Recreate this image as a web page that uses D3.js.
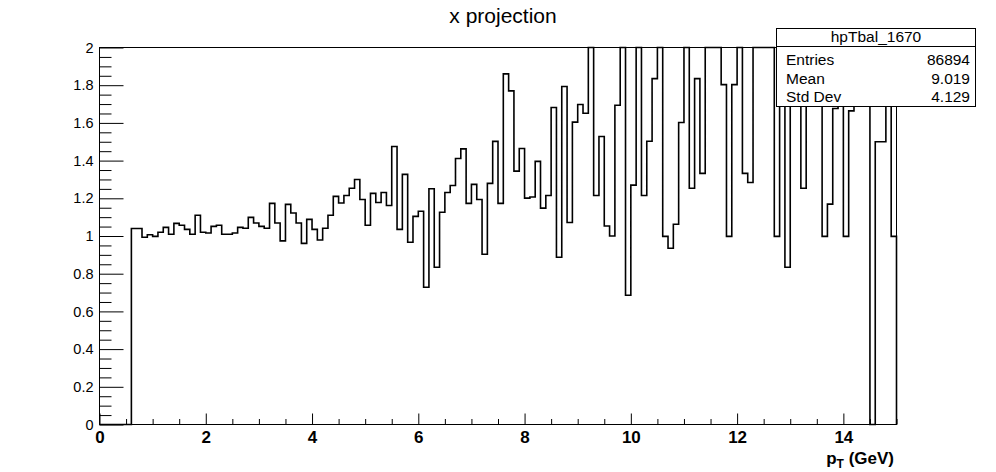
<!DOCTYPE html>
<html>
<head>
<meta charset="utf-8">
<script src="https://cdn.jsdelivr.net/npm/d3@7"></script>
<style>
  html, body { margin: 0; padding: 0; background: #fff; }
  svg { display: block; font-family: "Liberation Sans", Arial, Helvetica, sans-serif; }
</style>
</head>
<body>
<svg id="chart" width="996" height="472"></svg>
<script>
// ---------- data ----------
const chartTitle = "x projection";
const xDomain = [0, 15];
const yDomain = [0, 2];
const binWidth = 0.1;
// bin contents, bins [0,0.1), [0.1,0.2) ... [14.9,15.0)
const binValues = [
  0, 0, 0, 0, 0, 0,
  1.040, 1.040, 0.993, 1.007, 0.998, 1.020, 1.046, 1.009, 1.067, 1.057,   // 0.6 - 1.5
  1.035, 1.009, 1.110, 1.020, 1.016, 1.051, 1.057, 1.009, 1.009, 1.016,   // 1.6 - 2.5
  1.046, 1.041, 1.099, 1.069, 1.051, 1.041, 1.173, 1.069, 0.974, 1.168,   // 2.6 - 3.5
  1.122, 1.069, 0.961, 1.088, 1.035, 0.979, 1.041, 1.110, 1.210, 1.175,   // 3.6 - 4.5
  1.215, 1.253, 1.300, 1.194, 1.057, 1.226, 1.178, 1.231, 1.162, 1.475,   // 4.6 - 5.5
  1.035, 1.327, 0.967, 1.104, 1.131, 0.728, 1.251, 0.834, 1.126, 1.231,   // 5.6 - 6.5
  1.268, 1.411, 1.462, 1.173, 1.274, 1.194, 0.903, 1.279, 1.502, 1.173,   // 6.6 - 7.5
  1.860, 1.770, 1.344, 1.464, 1.201, 1.207, 1.396, 1.148, 1.215, 1.682,   // 7.6 - 8.5
  0.887, 1.793, 1.072, 1.604, 1.698, 1.651, 2.400, 1.215, 1.528, 1.053,   // 8.6 - 9.5
  1.000, 1.694, 2.300, 0.686, 1.270, 2.200, 1.215, 1.503, 1.835, 2.300,   // 9.6 - 10.5
  0.998, 0.935, 1.062, 1.602, 2.400, 1.253, 1.835, 1.332, 2.200, 2.500,   // 10.6 - 11.5
  2.300, 1.803, 0.998, 1.803, 2.400, 1.332, 1.284, 2.200, 2.600, 2.300,   // 11.6 - 12.5
  2.400, 0.998, 2.200, 0.834, 2.300, 2.100, 1.253, 2.500, 2.200, 2.300,   // 12.6 - 13.5
  0.998, 1.169, 1.676, 2.200, 0.998, 1.664, 2.300, 2.100, 2.400, 0.000,   // 13.6 - 14.5
  1.500, 1.500, 2.200, 0.998                                               // 14.6 - 14.9
];
const xTickValues = [0, 2, 4, 6, 8, 10, 12, 14];
const yTickLabels = ["0", "0.2", "0.4", "0.6", "0.8", "1", "1.2", "1.4", "1.6", "1.8", "2"];
const statsTitle = "hpTbal_1670";
const statsNames = ["Entries", "Mean", "Std Dev"];
const statsValues = ["86894", "9.019", "4.129"];

// ---------- layout ----------
const svg = d3.select("#chart");
const fL = 99.5, fR = 896.5, fT = 47.5, fB = 424.5;
const x = d3.scaleLinear().domain(xDomain).range([fL, fR]);
const y = d3.scaleLinear().domain(yDomain).range([fB, fT]);

svg.append("rect").attr("width", 996).attr("height", 472).attr("fill", "#fff");

// title
svg.append("text")
  .attr("x", 503).attr("y", 23)
  .attr("text-anchor", "middle")
  .attr("font-size", 21)
  .text(chartTitle);

// histogram path
const clipY = v => Math.max(yDomain[0], Math.min(yDomain[1], v));
const pts = [[xDomain[0], 0]];
binValues.forEach((v, i) => {
  const lo = xDomain[0] + i * binWidth, hi = lo + binWidth;
  pts.push([lo, clipY(v)]);
  pts.push([hi, clipY(v)]);
});
pts.push([xDomain[1], 0]);
const line = d3.line().x(d => x(d[0])).y(d => y(d[1]));
svg.append("path")
  .attr("d", line(pts))
  .attr("fill", "none")
  .attr("stroke", "#000")
  .attr("stroke-width", 1.6)
  .attr("stroke-linejoin", "miter");

// y axis (ticks inward)
const yMajor = yTickLabels.map(s => +s);
const yMinor = d3.range(0, 41).map(i => i * 0.05).filter((v, i) => i % 4 !== 0);
const yAxis = d3.axisLeft(y).tickValues(yMajor)
  .tickFormat((d, i) => yTickLabels[i])
  .tickSizeInner(-24).tickSizeOuter(0).tickPadding(6);
const gy = svg.append("g").attr("transform", `translate(${fL},0)`).call(yAxis);
gy.select(".domain").remove();
gy.selectAll("text").attr("font-size", 14.5).attr("font-family", "Liberation Sans, Arial, sans-serif").attr("fill", "#000");
gy.selectAll("line").attr("stroke", "#000");
const gyMinor = svg.append("g").attr("transform", `translate(${fL},0)`)
  .call(d3.axisLeft(y).tickValues(yMinor).tickFormat("").tickSizeInner(-12).tickSizeOuter(0));
gyMinor.select(".domain").remove();
gyMinor.selectAll("line").attr("stroke", "#000");

// x axis (ticks inward)
const xMinor = d3.range(0, 31).map(i => i * 0.5).filter((v, i) => i % 4 !== 0);
const xAxis = d3.axisBottom(x).tickValues(xTickValues)
  .tickFormat(d3.format("d"))
  .tickSizeInner(-11).tickSizeOuter(0).tickPadding(6);
const gx = svg.append("g").attr("transform", `translate(0,${fB})`).call(xAxis);
gx.select(".domain").remove();
gx.selectAll("text").attr("font-size", 17).attr("font-weight", "bold")
  .attr("font-family", "Liberation Sans, Arial, sans-serif").attr("fill", "#000");
gx.selectAll("line").attr("stroke", "#000");
const gxMinor = svg.append("g").attr("transform", `translate(0,${fB})`)
  .call(d3.axisBottom(x).tickValues(xMinor).tickFormat("").tickSizeInner(-5.5).tickSizeOuter(0));
gxMinor.select(".domain").remove();
gxMinor.selectAll("line").attr("stroke", "#000");

// frame
svg.append("rect")
  .attr("x", fL).attr("y", fT)
  .attr("width", fR - fL).attr("height", fB - fT)
  .attr("fill", "none").attr("stroke", "#000").attr("stroke-width", 1);

// x axis title
const xt = svg.append("text")
  .attr("x", 894).attr("y", 464)
  .attr("text-anchor", "end")
  .attr("font-size", 17).attr("font-weight", "bold");
xt.append("tspan").text("p");
xt.append("tspan").attr("font-size", 12).attr("dy", 4).text("T");
xt.append("tspan").attr("dy", -4).text(" (GeV)");

// stats box
const sb = { x: 776.5, y: 28.5, w: 199, h: 78, div: 46.5 };
svg.append("rect")
  .attr("x", sb.x).attr("y", sb.y).attr("width", sb.w).attr("height", sb.h)
  .attr("fill", "#fff").attr("stroke", "#000").attr("stroke-width", 1);
svg.append("line")
  .attr("x1", sb.x).attr("x2", sb.x + sb.w).attr("y1", sb.div).attr("y2", sb.div)
  .attr("stroke", "#000").attr("stroke-width", 1);
svg.append("text")
  .attr("x", sb.x + sb.w / 2).attr("y", 41.5)
  .attr("text-anchor", "middle").attr("font-size", 15.5)
  .text(statsTitle);
const rowY = [64.5, 83.5, 102];
statsNames.forEach((n, i) => {
  svg.append("text").attr("x", 786).attr("y", rowY[i])
    .attr("font-size", 15.5).text(n);
  svg.append("text").attr("x", 970).attr("y", rowY[i])
    .attr("text-anchor", "end").attr("font-size", 15.5).text(statsValues[i]);
});
</script>
</body>
</html>
